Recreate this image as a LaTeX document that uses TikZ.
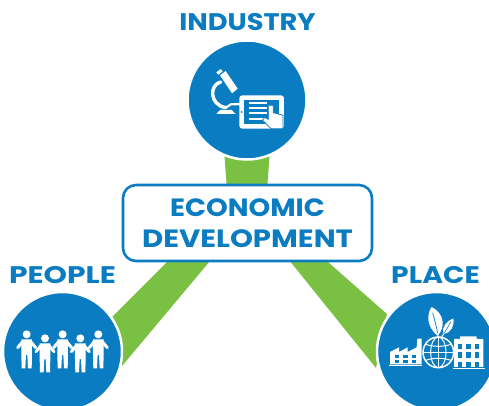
\documentclass[tikz,border=0pt]{standalone}
\usepackage{fontspec}
\setmainfont{Poppins}
\definecolor{hubblue}{HTML}{0A7CC1}
\definecolor{bandgreen}{HTML}{7AC143}
\tikzset{
  hub/.style={circle,fill=hubblue,draw=white,line width=2.5pt,minimum size=119pt,inner sep=0pt},
  band/.style={fill=bandgreen,draw=none},
  title/.style={text=hubblue,font=\fontsize{24}{28}\selectfont\bfseries,inner sep=0pt,anchor=center},
  corebox/.style={draw=hubblue,fill=white,line width=2.6pt,rounded corners=13pt,minimum width=249pt,minimum height=76pt,align=center,text=hubblue,font=\fontsize{25}{30}\selectfont\bfseries,inner sep=0pt},
  ico/.style={fill=white,draw=none},
  icol/.style={draw=white,fill=none,line cap=round},
  holeb/.style={fill=hubblue,draw=none}
}
\begin{document}
\begin{tikzpicture}[x=1pt,y=-1pt]
\useasboundingbox (0,0) rectangle (489,406);
% green bands
\path[band] (224,150) -- (270,150) -- (267,190) -- (227,190) -- cycle;
\path[band] (174,255) -- (215,255) -- (122,366) -- (111,318) -- cycle;
\path[band] (285,255) -- (320,255) -- (387,314) -- (376,368) -- cycle;
% hubs
\node[hub] (ind) at (247,100) {};
\node[hub] (peo) at (62.5,351.5) {};
\node[hub] (pla) at (436.5,351.5) {};
% centre
\node[corebox] (eco) at (247.5,223) {\scalebox{1.105}[1]{ECONOMIC}\\[.5pt]\scalebox{1.167}[1]{DEVELOPMENT}};
% titles
\node[title] (tind) at (247.5,22) {\scalebox{1.135}[1]{INDUSTRY}};
\node[title] (tpeo) at (62.5,275) {\scalebox{1.24}[1]{PEOPLE}};
\node[title] (tpla) at (435.5,275) {\scalebox{1.175}[1]{PLACE}};
% microscope + tablet icon
\begin{scope}[shift={(205,62)},x=.3333pt,y=-.3333pt]
  \path[ico] (34,31) -- (47,21) -- (53,28) -- (40,38) -- cycle;
  \path[ico] (45,40) -- (62,27) -- (98,80) -- (81,94) -- cycle;
  \draw[icol,line width=3.4pt] (47,60) .. controls (13,68) and (12,128) .. (62,137);
  \draw[icol,line width=2.2pt] (62,137) -- (78,127) -- (103,127);
  \path[ico] (34,156) -- (45,144) -- (80,144) -- (92,156) -- cycle;
  \path[ico,rounded corners=3pt] (103,100) rectangle (237,200);
  \path[holeb] (118,113) rectangle (222,187);
  \path[holeb] (110,150) circle (3);
  \foreach \yy in {122,138,153,170}{\path[ico] (133,\yy-3) rectangle (187,\yy+3);}
  \path[ico,draw=hubblue,line width=.8pt] (190,130) -- (205,130) -- (205,152) -- (234,160) -- (234,200) -- (198,200) -- (172,174) -- (180,166) -- (190,172) -- cycle;
\end{scope}
% people icon
\begin{scope}[shift={(15,325)},x=.3333pt,y=-.3333pt]
  \foreach \px/\py in {35/28,90/40,143/28,196/40,250/28}{
    \begin{scope}[shift={(\px,\py)}]
      \path[ico] (0,0) circle (12);
      \draw[icol,line width=3pt] (-12,22) -- (-27,40);
      \draw[icol,line width=3pt] (12,22) -- (27,40);
      \path[ico] (-16,15) -- (16,15) -- (16,60) -- (15,102) -- (4,102) -- (2,62) -- (-2,62) -- (-4,102) -- (-15,102) -- (-16,60) -- cycle;
    \end{scope}}
\end{scope}
% place icon
\begin{scope}[shift={(385,303)},x=.3333pt,y=-.3333pt]
  % factory
  \path[ico] (15,184) -- (15,147) -- (42,133) -- (42,147) -- (68,133) -- (68,147) -- (95,133) -- (97,107) -- (110,107) -- (110,184) -- cycle;
  \path[ico] (13,186) rectangle (112,190);
  \foreach \xx in {30,55,80}{\foreach \yy in {155,172}{\path[holeb] (\xx,\yy) rectangle (\xx+13,\yy+9);}}
  % globe
  \draw[white,line width=1.5pt] (160,148) circle (46);
  \draw[white,line width=1pt] (160,148) ellipse (23 and 46);
  \draw[white,line width=1pt] (160,102) -- (160,194);
  \draw[white,line width=1pt] (114,148) -- (206,148);
  \draw[white,line width=1pt] (122,124) .. controls (145,132) and (175,132) .. (198,124);
  \draw[white,line width=1pt] (122,172) .. controls (145,164) and (175,164) .. (198,172);
  % leaves
  \path[ico] (158,98) .. controls (122,70) and (126,30) .. (140,12) .. controls (176,30) and (184,70) .. (158,98) -- cycle;
  \draw[hubblue,line width=.7pt] (143,30) .. controls (150,55) and (155,75) .. (158,90);
  \path[ico] (176,93) .. controls (168,70) and (188,53) .. (205,46) .. controls (209,70) and (197,90) .. (176,93) -- cycle;
  \draw[hubblue,line width=.6pt] (198,56) .. controls (190,70) and (184,80) .. (178,90);
  \draw[white,line width=1pt] (158,92) -- (160,102);
  \draw[white,line width=1pt] (176,92) -- (170,102);
  % building
  \path[ico] (207,192) -- (207,108) -- (225,108) -- (225,100) -- (275,100) -- (275,108) -- (295,108) -- (295,192) -- cycle;
  \path[ico] (203,195) rectangle (300,199);
  \foreach \xx in {219,244,270}{\foreach \yy in {122,148,176}{\path[holeb] (\xx,\yy) rectangle (\xx+13,\yy+16);}}
\end{scope}
\end{tikzpicture}
\end{document}
